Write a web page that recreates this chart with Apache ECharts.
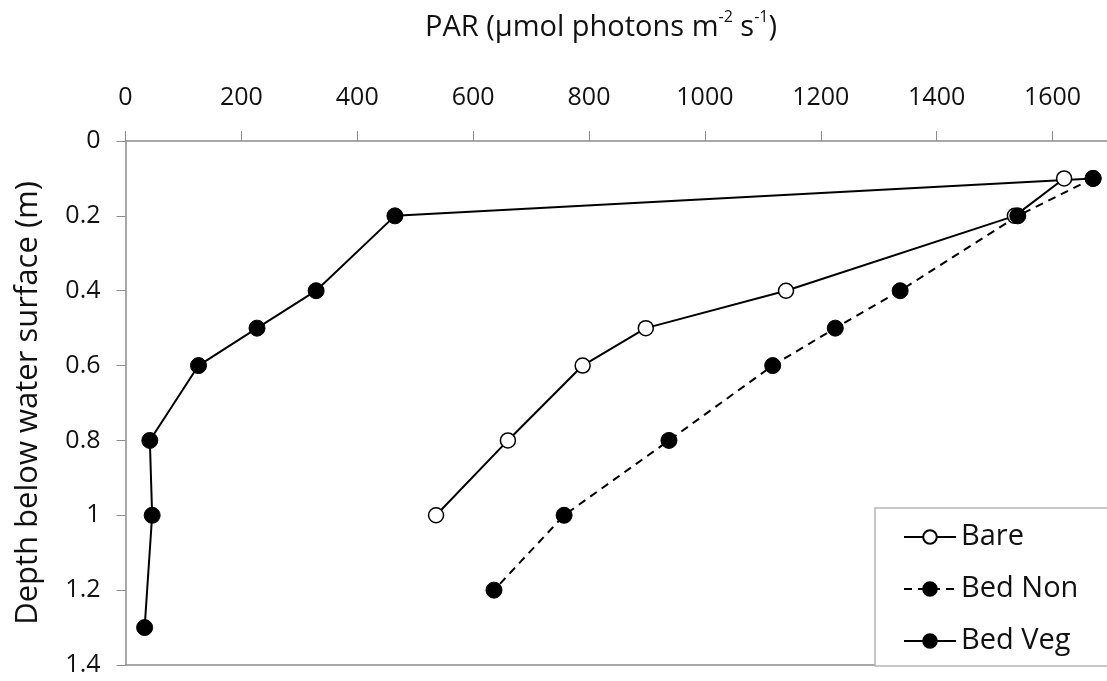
<!DOCTYPE html>
<html>
<head>
<meta charset="utf-8">
<script src="https://cdn.jsdelivr.net/npm/echarts@6/dist/echarts.min.js"></script>
<style>
html,body{margin:0;padding:0;background:#fff;}
#chart{width:1107px;height:681px;}
</style>
</head>
<body>
<div id="chart"></div>
<script>
// Data
const seriesNames = ['Bare', 'Bed Non', 'Bed Veg'];
const bareDepth = [0.1, 0.2, 0.4, 0.5, 0.6, 0.8, 1.0];
const barePAR   = [1620, 1535, 1140, 898, 789, 660, 536];
const bedNonDepth = [0.1, 0.2, 0.4, 0.5, 0.6, 0.8, 1.0, 1.2];
const bedNonPAR   = [1670, 1540, 1337, 1225, 1117, 938, 757, 636];
const bedVegDepth = [0.1, 0.2, 0.4, 0.5, 0.6, 0.8, 1.0, 1.3];
const bedVegPAR   = [1670, 465, 329, 227, 126, 42, 46, 33];
const xTickValues = [0, 200, 400, 600, 800, 1000, 1200, 1400, 1600];

function pairs(xs, ys) { return xs.map((x, i) => [x, ys[i]]); }

const FONT = 'Open Sans';
const chart = echarts.init(document.getElementById('chart'), null, {renderer: 'canvas'});
const axisGrey = '#8c8c8c';

chart.setOption({
  animation: false,
  backgroundColor: '#fff',
  textStyle: {fontFamily: FONT, color: '#111'},
  title: {
    text: '{n|PAR (μmol photons m}{s|-2}{n| s}{s|-1}{n|)}',
    left: 596,
    textAlign: 'center',
    top: 4,
    textStyle: {
      fontWeight: 'normal',
      rich: {
        n: {fontFamily: FONT, fontSize: 29, fontWeight: 'normal', color: '#111', lineHeight: 38},
        s: {fontFamily: FONT, fontSize: 16, fontWeight: 'normal', color: '#111', verticalAlign: 'top', lineHeight: 38, padding: [0, 0, 12, 0]}
      }
    }
  },
  grid: {left: 125.5, top: 141, right: 0, bottom: 16, containLabel: false},
  xAxis: [{
    type: 'value',
    position: 'top',
    min: 0,
    max: 1694,
    interval: 200,
    axisLine: {show: true, lineStyle: {color: axisGrey, width: 1.5}},
    axisTick: {show: true, inside: false, length: 10, lineStyle: {color: axisGrey, width: 1}, customValues: xTickValues},
    axisLabel: {show: true, fontSize: 25, fontFamily: FONT, color: '#111', margin: 31, customValues: xTickValues,
                formatter: v => String(v)},
    splitLine: {show: false}
  }, {
    type: 'value',
    position: 'bottom',
    min: 0,
    max: 1694,
    axisLine: {show: true, onZero: false, lineStyle: {color: axisGrey, width: 1.5}},
    axisTick: {show: false},
    axisLabel: {show: false},
    splitLine: {show: false}
  }],
  yAxis: {
    type: 'value',
    inverse: true,
    min: 0,
    max: 1.4,
    interval: 0.2,
    name: 'Depth below water surface (m)',
    nameLocation: 'middle',
    nameRotate: 90,
    nameGap: 82,
    nameTextStyle: {fontFamily: FONT, fontSize: 31, color: '#111'},
    axisLine: {show: true, onZero: false, lineStyle: {color: axisGrey, width: 1.5}},
    axisTick: {show: true, inside: false, length: 9, lineStyle: {color: axisGrey, width: 1}},
    axisLabel: {fontSize: 25, fontFamily: FONT, color: '#111', margin: 25},
    splitLine: {show: false}
  },
  legend: {
    data: seriesNames,
    orient: 'vertical',
    left: 875,
    top: 508,
    padding: [14, 40, 10, 28],
    itemWidth: 52,
    itemHeight: 17,
    itemGap: 22,
    backgroundColor: '#fff',
    borderColor: '#b5b5b5',
    borderWidth: 1.5,
    borderRadius: 0,
    textStyle: {fontFamily: FONT, fontSize: 29, color: '#111', lineHeight: 30}
  },
  series: [
    {
      name: 'Bed Veg',
      type: 'line',
      z: 2,
      data: pairs(bedVegPAR, bedVegDepth),
      symbol: 'circle',
      symbolSize: 16,
      lineStyle: {color: '#000', width: 2, type: 'solid'},
      itemStyle: {color: '#000', borderColor: '#000', borderWidth: 1}
    },
    {
      name: 'Bare',
      type: 'line',
      z: 3,
      data: pairs(barePAR, bareDepth),
      symbol: 'circle',
      symbolSize: 15,
      lineStyle: {color: '#000', width: 2, type: 'solid'},
      itemStyle: {color: '#fff', borderColor: '#000', borderWidth: 1.5}
    },
    {
      name: 'Bed Non',
      type: 'line',
      z: 4,
      data: pairs(bedNonPAR, bedNonDepth),
      symbol: 'circle',
      symbolSize: 16,
      lineStyle: {color: '#000', width: 2, type: [8, 6]},
      itemStyle: {color: '#000', borderColor: '#000', borderWidth: 1}
    }
  ]
});
</script>
</body>
</html>
